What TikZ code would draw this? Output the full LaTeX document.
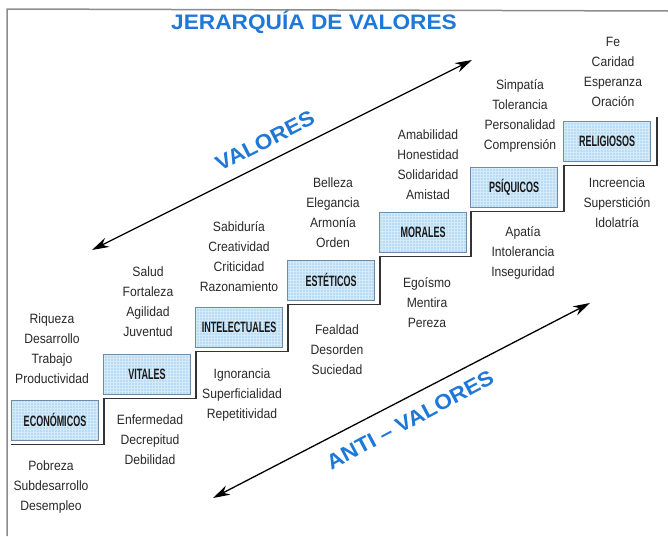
\documentclass[tikz,border=0pt]{standalone}
\usepackage{fontspec}
\usetikzlibrary{calc, arrows.meta}

\newfontfamily\textofont[FakeStretch=0.9]{Liberation Sans}
\newfontfamily\cajafont[FakeStretch=0.6]{Liberation Sans}
\newfontfamily\titulofont[FakeStretch=1.08]{Liberation Sans}

\definecolor{azultitulo}{RGB}{30,120,215}
\definecolor{celeste}{RGB}{184,220,245}
\definecolor{bordecaja}{RGB}{110,140,170}
\definecolor{gristexto}{RGB}{40,40,40}

\tikzset{
  nivel/.style={draw=bordecaja, line width=0.8pt, fill=celeste,
    minimum width=87pt, minimum height=40pt, inner sep=0pt,
    font=\cajafont\bfseries\fontsize{15}{17}\selectfont, text=black!90,
    path picture={\draw[white, opacity=0.4, line width=0.3pt]
      (path picture bounding box.south west) grid[step=3pt]
      (path picture bounding box.north east);}},
  lista/.style={align=center, inner sep=0pt, text=gristexto,
    font=\textofont\fontsize{13.5}{20}\selectfont},
  rotulo/.style={text=azultitulo, inner sep=0pt,
    font=\titulofont\bfseries\fontsize{21}{24}\selectfont},
  flecha/.style={line width=1.3pt,
    {Stealth[length=17pt,width=10pt]}-{Stealth[length=17pt,width=10pt]}},
  escalon/.style={line width=1.4pt, draw=black!80},
  marco/.style={line width=1.5pt, draw=black!45}
}

\begin{document}
\begin{tikzpicture}[x=1pt, y=-1pt]
  \useasboundingbox (0,0) rectangle (668,536);

  \draw[marco] (7,536) -- (7,9) -- (668,11); % page frame

  \node[rotulo, anchor=base] (titulo) at (314,29) {JERARQUÍA DE VALORES};

  % the seven levels, one step up each
  \node[nivel] (eco) at (55,420) {ECONÓMICOS};
  \node[nivel] (vit) at (147,374) {VITALES};
  \node[nivel] (int) at (239,327) {INTELECTUALES};
  \node[nivel] (est) at (331,280) {ESTÉTICOS};
  \node[nivel] (mor) at (423,232) {MORALES};
  \node[nivel] (psi) at (514,187) {PSÍQUICOS};
  \node[nivel] (rel) at (607,141) {RELIGIOSOS};

  % staircase under the boxes
  \draw[escalon] ($(eco.south west)+(0,4)$) -| ($(vit.south west)+(1,4)$)
    -| ($(int.south west)+(1,4)$) -| ($(est.south west)+(1,4)$)
    -| ($(mor.south west)+(1,4)$) -| ($(psi.south west)+(1,4)$)
    -| ($(rel.south west)+(1,4)$) -| ($(rel.north east)+(6,-4)$);

  % values above, anti-values below
  \node[lista] (eco-v) at (52,349) {Riqueza\\Desarrollo\\Trabajo\\Productividad};
  \node[lista] (eco-a) at (51,487) {Pobreza\\Subdesarrollo\\Desempleo};
  \node[lista] (vit-v) at (148,302) {Salud\\Fortaleza\\Agilidad\\Juventud};
  \node[lista] (vit-a) at (150,440) {Enfermedad\\Decrepitud\\Debilidad};
  \node[lista] (int-v) at (239,257) {Sabiduría\\Creatividad\\Criticidad\\Razonamiento};
  \node[lista] (int-a) at (242,395) {Ignorancia\\Superficialidad\\Repetitividad};
  \node[lista] (est-v) at (333,213) {Belleza\\Elegancia\\Armonía\\Orden};
  \node[lista] (est-a) at (337,350) {Fealdad\\Desorden\\Suciedad};
  \node[lista] (mor-v) at (428,165) {Amabilidad\\Honestidad\\Solidaridad\\Amistad};
  \node[lista] (mor-a) at (427,303) {Egoísmo\\Mentira\\Pereza};
  \node[lista] (psi-v) at (520,116) {Simpatía\\Tolerancia\\Personalidad\\Comprensión};
  \node[lista] (psi-a) at (523,253) {Apatía\\Intolerancia\\Inseguridad};
  \node[lista] (rel-v) at (613,72) {Fe\\Caridad\\Esperanza\\Oración};
  \node[lista] (rel-a) at (617,203) {Increencia\\Superstición\\Idolatría};

  % the two diagonal arrows
  \coordinate (v-ini) at (92,250);
  \coordinate (v-fin) at (472,60);
  \draw[flecha] (v-ini) -- (v-fin);
  \node[rotulo, rotate=27] (valores) at (265,141) {VALORES};

  \coordinate (a-ini) at (213,498);
  \coordinate (a-fin) at (590,303);
  \draw[flecha] (a-ini) -- (a-fin);
  \node[rotulo, rotate=28] (antivalores) at (410,420) {ANTI – VALORES};
\end{tikzpicture}
\end{document}
